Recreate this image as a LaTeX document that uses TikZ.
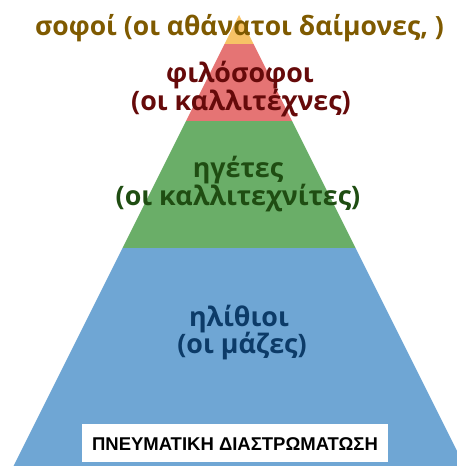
\documentclass[tikz,border=0pt]{standalone}
\usepackage{fontspec}
\setmainfont{Open Sans}
\newfontfamily\boxfont{Liberation Sans}
\definecolor{cyel}{HTML}{F7C266}
\definecolor{cred}{HTML}{E57474}
\definecolor{cgreen}{HTML}{6AAE68}
\definecolor{cblue}{HTML}{6FA6D4}
\definecolor{tbrown}{HTML}{7F5A00}
\definecolor{tred}{HTML}{660A0A}
\definecolor{tgreen}{HTML}{1F4D12}
\definecolor{tblue}{HTML}{0C3B68}
\begin{document}
\begin{tikzpicture}[x=1pt,y=-1pt,
  lbl/.style={anchor=base,inner sep=0pt,font=\fontsize{26.8}{30}\selectfont\bfseries},
  toplbl/.style={anchor=base,inner sep=0pt,font=\fontsize{26.5}{30}\selectfont\bfseries,text=tbrown}]
\useasboundingbox (0,0) rectangle (457,466);
\clip (0,0) rectangle (457,466);
% triangle: apex (239,15), half-width slope 0.5
\fill[cyel]   (239,15) -- (253.5,44) -- (224.5,44) -- cycle;
\fill[cred]   (224.5,44) -- (253.5,44) -- (292,121) -- (186,121) -- cycle;
\fill[cgreen] (186,121) -- (292,121) -- (355.5,248) -- (122.5,248) -- cycle;
\fill[cblue]  (122.5,248) -- (355.5,248) -- (464.5,466) -- (13.5,466) -- cycle;
\node[toplbl] (top) at (239.5,35) {σοφοί (οι αθάνατοι δαίμονες, )};
\node[lbl,text=tred] (r1) at (240,82) {φιλόσοφοι};
\node[lbl,text=tred] (r2) at (241,110) {(οι καλλιτέχνες)};
\node[lbl,text=tgreen] (g1) at (238,177) {ηγέτες};
\node[lbl,text=tgreen] (g2) at (238,205) {(οι καλλιτεχνίτες)};
\node[lbl,text=tblue] (b1) at (239,326) {ηλίθιοι};
\node[lbl,text=tblue] (b2) at (242,353) {(οι μάζες)};
\node[fill=white,minimum width=306pt,minimum height=38pt,inner sep=0pt] (box) at (235,443) {};
\node[anchor=base,inner sep=0pt,font=\boxfont\fontsize{18.5}{20}\selectfont\bfseries] (boxtxt) at (235,450) {ΠΝΕΥΜΑΤΙΚΗ ΔΙΑΣΤΡΩΜΑΤΩΣΗ};
\end{tikzpicture}
\end{document}
